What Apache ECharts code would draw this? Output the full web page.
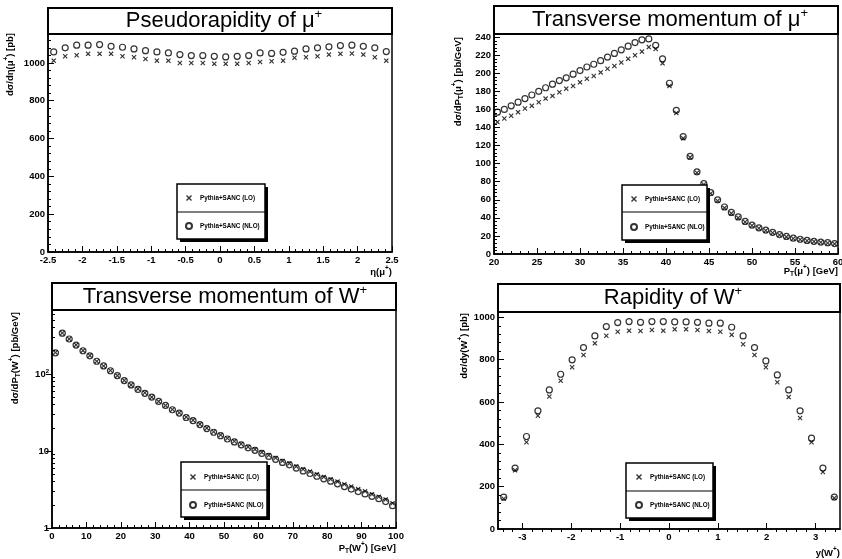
<!DOCTYPE html>
<html><head><meta charset="utf-8">
<script src="https://cdn.jsdelivr.net/npm/echarts@6/dist/echarts.min.js"></script>
<style>html,body{margin:0;padding:0;background:#fff}#c{width:842px;height:559px}</style>
</head><body><div id="c"></div>
<script>
const LO_NAME = 'Pythia+SANC (LO)';
const NLO_NAME = 'Pythia+SANC (NLO)';

// Panel 1: pseudorapidity of mu+
const etaCenters = [-2.417,-2.25,-2.083,-1.917,-1.75,-1.583,-1.417,-1.25,-1.083,-0.917,-0.75,-0.583,-0.417,-0.25,-0.083,0.083,0.25,0.417,0.583,0.75,0.917,1.083,1.25,1.417,1.583,1.75,1.917,2.083,2.25,2.417];
const etaLO  = [1012,1035,1041,1048,1048,1048,1035,1030,1021,1012,1012,1000,1000,1000,995,995,995,1000,1005,1009,1012,1027,1030,1035,1044,1048,1050,1044,1030,1012];
const etaNLO = [1058,1080,1094,1094,1097,1088,1083,1074,1065,1058,1053,1044,1039,1039,1035,1032,1035,1039,1053,1050,1056,1062,1074,1080,1085,1092,1094,1088,1080,1060];

// Panel 2: transverse momentum of mu+
const ptMuCenters = [20.4,21.2,22.0,22.8,23.6,24.4,25.2,26.0,26.8,27.6,28.4,29.2,30.0,30.8,31.6,32.4,33.2,34.0,34.8,35.6,36.4,37.2,38.0,38.8,39.6,40.4,41.2,42.0,42.8,43.6,44.4,45.2,46.0,46.8,47.6,48.4,49.2,50.0,50.8,51.6,52.4,53.2,54.0,54.8,55.6,56.4,57.2,58.0,58.8,59.6];
const ptMuLO  = [146,150,153,157,161,164,168,172,175,179,183,186,190,194,197,201,205,208,212,216,220,224,229,227,211,186,156,128,107,90,77,67,59,51,45,40,35.5,31.5,28.5,26,23.5,21,19,17.2,16,14.7,13.8,13,12.2,11.2];
const ptMuNLO = [157,160,164,168,172,176,180,184,188,192,195,199,203,207,210,214,218,222,226,230,234,237,238,231,216,189,159,130,108,91,78,68,60,52,46,41,36,32,29,26.5,24,21.5,19.5,17.5,16.3,15,14,13.2,12.5,11.5];

// Panel 3: transverse momentum of W+
const ptWCenters = [1,3,5,7,9,11,13,15,17,19,21,23,25,27,29,31,33,35,37,39,41,43,45,47,49,51,53,55,57,59,61,63,65,67,69,71,73,75,77,79,81,83,85,87,89,91,93,95,97,99];
const ptWLO  = [190,340,285,238,201,173,146,127,111,95,82,72,64,57,50,44,39,34.6,31.4,27.5,25,22.3,19.8,17.8,16.1,14.6,13.4,12.3,11.3,10.5,9.6,8.8,8.1,7.4,6.9,6.3,5.8,5.4,5.0,4.6,4.3,4.0,3.7,3.45,3.2,3.0,2.75,2.55,2.35,2.1];
const ptWNLO = [188,338,284,237,200,172,146,127,110,95,82,72,63,56,50,44,39,34.3,31,27.2,24.7,22,19.5,17.5,15.8,14.3,13.1,12.0,11.0,10.2,9.3,8.5,7.8,7.1,6.6,6.0,5.5,5.1,4.7,4.35,4.05,3.75,3.45,3.2,2.97,2.77,2.58,2.4,2.2,1.95];
const ptWLabelValues = [1,10,100];
const ptWMinorTicks = [2,3,4,5,6,7,8,9,20,30,40,50,60,70,80,90,200,300,400,500,600];

// Panel 4: rapidity of W+
const yWCenters = [-3.383,-3.15,-2.917,-2.683,-2.45,-2.217,-1.983,-1.75,-1.517,-1.283,-1.05,-0.817,-0.583,-0.35,-0.117,0.117,0.35,0.583,0.817,1.05,1.283,1.517,1.75,1.983,2.217,2.45,2.683,2.917,3.15,3.383];
const yWLO  = [143,277,410,535,626,700,764,822,877,913,932,937,935,940,937,943,943,940,935,932,917,873,822,764,693,623,524,410,269,146];
const yWNLO = [151,288,437,558,657,731,799,857,912,956,975,980,976,980,980,978,978,976,972,972,953,912,857,794,728,657,558,429,288,151];
const yWTickLabels = [-3,-2,-1,0,1,2,3];
const yWMinorTicks = [-3.4,-3.2,-2.8,-2.6,-2.4,-2.2,-1.8,-1.6,-1.4,-1.2,-0.8,-0.6,-0.4,-0.2,0.2,0.4,0.6,0.8,1.2,1.4,1.6,1.8,2.2,2.4,2.6,2.8,3.2,3.4];

const FONT = '"Liberation Sans", Arial, sans-serif';
const CROSS = 'path://M0,1.6L1.6,0L5,3.4L8.4,0L10,1.6L6.6,5L10,8.4L8.4,10L5,6.6L1.6,10L0,8.4L3.4,5Z';

// panel geometry: grid rect and title box
const panels = [
  {l:48,  t:34,  w:344, h:218, ft:8,   title:'Pseudorapidity of μ', tx:224},
  {l:494, t:34,  w:344, h:220, ft:6,   title:'Transverse momentum of μ', tx:670},
  {l:52,  t:310, w:344, h:218, ft:283, title:'Transverse momentum of W', tx:225},
  {l:498, t:312, w:342, h:217, ft:284, title:'Rapidity of W', tx:673}
];
const legendBoxes = [
  {x:177, y:184, w:88, h:55, div:212, il:185, it:194},
  {x:622, y:185, w:85, h:55, div:212, il:630, it:195},
  {x:181, y:462, w:86, h:55, div:490, il:189, it:473},
  {x:626, y:463, w:87, h:55, div:491, il:635, it:473}
];

function pair(xs, ys){ return xs.map((x,i)=>[x, ys[i]]); }

const axisLine = {show:true, onZero:false, lineStyle:{color:'#000', width:1.5}};
const axisTick = {show:true, inside:true, length:6, lineStyle:{color:'#000', width:1}};
const minorTick = {show:true, splitNumber:5, length:3, lineStyle:{color:'#000', width:1}};
const axisLabel = {color:'#000', fontSize:9.5, fontWeight:'bold', fontFamily:FONT, margin:3, formatter: v => String(v)};

function valAxis(extra){
  return Object.assign({type:'value', axisLine, axisTick, minorTick, splitLine:{show:false},
    axisLabel: Object.assign({}, axisLabel)}, extra);
}

const grid = panels.map(p=>({left:p.l, top:p.t, width:p.w, height:p.h, show:true,
  borderColor:'#000', borderWidth:1.5, backgroundColor:'#fff', containLabel:false, outerBoundsMode:'none'}));

const xAxis = [
  valAxis({gridIndex:0, min:-2.5, max:2.5, interval:0.5}),
  valAxis({gridIndex:1, min:20, max:60, interval:5}),
  valAxis({gridIndex:2, min:0, max:100, interval:10}),
  valAxis({gridIndex:3, min:-3.5, max:3.5, minorTick:{show:false},
    axisTick:Object.assign({}, axisTick, {customValues:yWTickLabels}),
    axisLabel:Object.assign({}, axisLabel, {customValues:yWTickLabels})}),
  valAxis({gridIndex:3, min:-3.5, max:3.5, minorTick:{show:false}, axisLine:{show:false},
    axisTick:Object.assign({}, axisTick, {length:3, customValues:yWMinorTicks}),
    axisLabel:{show:false}})
];
const yAxis = [
  valAxis({gridIndex:0, min:0, max:1153, interval:200, axisLabel:Object.assign({}, axisLabel, {showMaxLabel:false})}),
  valAxis({gridIndex:1, min:0, max:243.5, interval:20, axisLabel:Object.assign({}, axisLabel, {showMaxLabel:false})}),
  {type:'log', logBase:10, gridIndex:2, min:1, max:676, axisLine, splitLine:{show:false}, minorTick:{show:false},
    axisTick:Object.assign({}, axisTick, {length:3, customValues:ptWMinorTicks}),
    axisLabel:Object.assign({}, axisLabel, {customValues:ptWLabelValues,
      formatter: v => v >= 100 ? '{b|10}{s|2}' : String(v),
      rich:{b:{fontSize:9.5, fontWeight:'bold', fontFamily:FONT, color:'#000', lineHeight:12},
            s:{fontSize:6, fontWeight:'bold', fontFamily:FONT, color:'#000', verticalAlign:'top'}}})},
  {type:'log', logBase:10, gridIndex:2, min:1, max:676, axisLine:{show:false}, splitLine:{show:false}, minorTick:{show:false},
    axisTick:Object.assign({}, axisTick, {customValues:ptWLabelValues}), axisLabel:{show:false}},
  valAxis({gridIndex:3, min:0, max:1025, interval:200, axisLabel:Object.assign({}, axisLabel, {showMaxLabel:false})})
];

const datasets = [
  {x:0, y:0, xs:etaCenters, lo:etaLO, nlo:etaNLO},
  {x:1, y:1, xs:ptMuCenters, lo:ptMuLO, nlo:ptMuNLO},
  {x:2, y:2, xs:ptWCenters, lo:ptWLO, nlo:ptWNLO},
  {x:3, y:4, xs:yWCenters, lo:yWLO, nlo:yWNLO}
];
const series = [];
datasets.forEach(d=>{
  series.push({type:'scatter', name:LO_NAME, xAxisIndex:d.x, yAxisIndex:d.y, data:pair(d.xs,d.lo),
    symbol:CROSS, symbolSize:5, itemStyle:{color:'#000'}, z:3, silent:true});
  series.push({type:'scatter', name:NLO_NAME, xAxisIndex:d.x, yAxisIndex:d.y, data:pair(d.xs,d.nlo),
    symbol:'circle', symbolSize:6, itemStyle:{color:'rgba(0,0,0,0)', borderColor:'#000', borderWidth:1.2}, z:4, silent:true});
});

const legend = legendBoxes.map(b=>({
  left:b.il, top:b.it, orient:'vertical', itemGap:20, itemWidth:6, itemHeight:6, padding:0,
  selectedMode:false, z:120, data:[LO_NAME, NLO_NAME],
  textStyle:{fontSize:6.3, fontWeight:'bold', fontFamily:FONT, color:'#000', lineHeight:8, padding:[0,0,0,3]}
}));

const graphic = [];
const titleRich = {
  t:{fontSize:22, fontFamily:FONT, fill:'#000', lineHeight:26},
  s:{fontSize:13, fontFamily:FONT, fill:'#000', verticalAlign:'top', lineHeight:13}
};
panels.forEach(p=>{
  graphic.push({type:'rect', z:100, shape:{x:p.l, y:p.ft, width:p.w, height:p.t-p.ft},
    style:{fill:'#fff', stroke:'#000', lineWidth:2}});
  graphic.push({type:'text', z:101, x:p.tx, y:(p.ft+p.t)/2,
    style:{text:'{t|'+p.title+'}{s|+}', rich:titleRich, align:'center', verticalAlign:'middle'}});
});
legendBoxes.forEach(b=>{
  graphic.push({type:'rect', z:102, shape:{x:b.x+3, y:b.y+3, width:b.w, height:b.h}, style:{fill:'#000'}});
  graphic.push({type:'rect', z:103, shape:{x:b.x, y:b.y, width:b.w, height:b.h}, style:{fill:'#fff', stroke:'#000', lineWidth:1.5}});
  graphic.push({type:'line', z:104, shape:{x1:b.x, y1:b.div, x2:b.x+b.w, y2:b.div}, style:{stroke:'#000', lineWidth:1.2}});
});

const aRich = {
  n:{fontSize:9.5, fontWeight:'bold', fontFamily:FONT, fill:'#000', lineHeight:14},
  d:{fontSize:6.5, fontWeight:'bold', fontFamily:FONT, fill:'#000', verticalAlign:'bottom'},
  u:{fontSize:6.5, fontWeight:'bold', fontFamily:FONT, fill:'#000', verticalAlign:'top'}
};
const axisTitles = [
  {x:10,  y:33,  rot:true,  text:'{n|dσ/dη(μ}{u|+}{n|) [pb]}'},
  {x:392, y:272, rot:false, text:'{n|η(μ}{u|+}{n|)}'},
  {x:458, y:37,  rot:true,  text:'{n|dσ/dP}{d|T}{n|(μ}{u|+}{n|) [pb/GeV]}'},
  {x:838, y:271, rot:false, text:'{n|P}{d|T}{n|(μ}{u|+}{n|) [GeV]}'},
  {x:15,  y:312, rot:true,  text:'{n|dσ/dP}{d|T}{n|(W}{u|+}{n|) [pb/GeV]}'},
  {x:396, y:548, rot:false, text:'{n|P}{d|T}{n|(W}{u|+}{n|) [GeV]}'},
  {x:464, y:313, rot:true,  text:'{n|dσ/dy(W}{u|+}{n|) [pb]}'},
  {x:840, y:553, rot:false, text:'{n|y(W}{u|+}{n|)}'}
];
axisTitles.forEach(a=>{
  graphic.push({type:'text', z:50, x:a.x, y:a.y, rotation: a.rot ? Math.PI/2 : 0,
    style:{text:a.text, rich:aRich, align:'right', verticalAlign:'middle'}});
});

const chart = echarts.init(document.getElementById('c'), null, {renderer:'canvas'});
chart.setOption({animation:false, backgroundColor:'#fff', grid, xAxis, yAxis, series, legend, graphic});
</script></body></html>
